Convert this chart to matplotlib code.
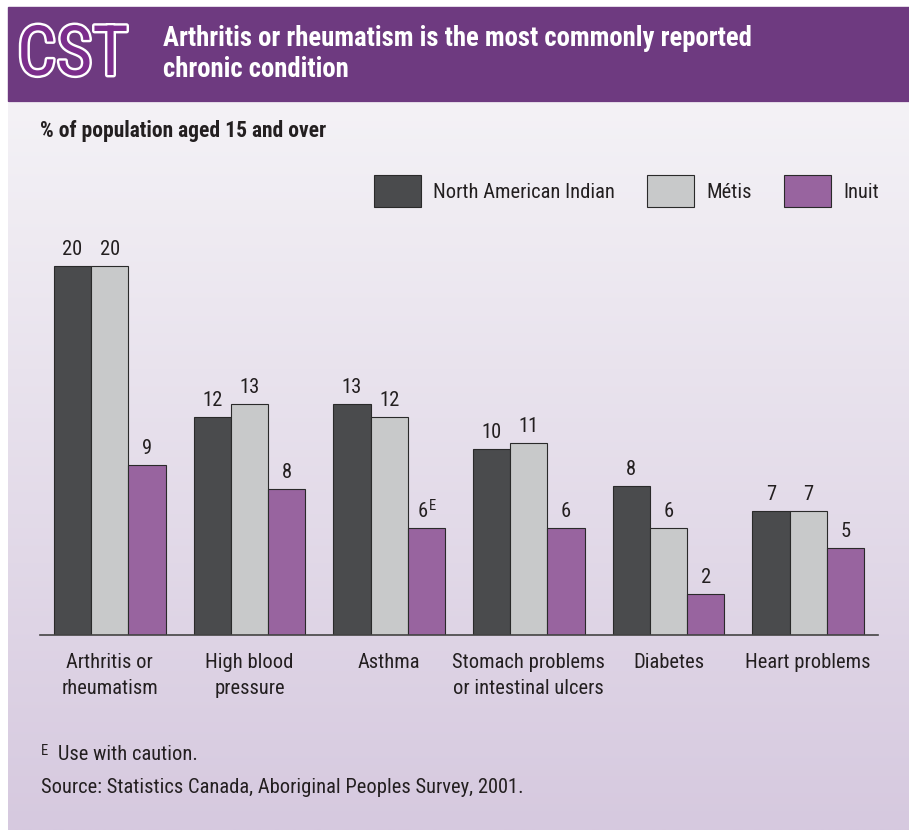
import numpy as np
import matplotlib
matplotlib.use("Agg")
import matplotlib.pyplot as plt
from matplotlib.patches import Rectangle
import matplotlib.patheffects as pe

# data
categories = ["Arthritis or\nrheumatism", "High blood\npressure", "Asthma",
              "Stomach problems\nor intestinal ulcers", "Diabetes", "Heart problems"]
series = ["North American Indian", "Métis", "Inuit"]
nai = [20.0, 11.8, 12.5, 10.1, 8.1, 6.7]
metis = [20.0, 12.5, 11.8, 10.4, 5.8, 6.7]
inuit = [9.2, 7.9, 5.8, 5.8, 2.2, 4.7]
nai_lbl = ["20", "12", "13", "10", "8", "7"]
metis_lbl = ["20", "13", "12", "11", "6", "7"]
inuit_lbl = ["9", "8", "6", "6", "2", "5"]
inuit_flag = [False, False, True, False, False, False]   # E = use with caution

colors = ["#4a4b4d", "#c8c9ca", "#98649f"]

plt.rcParams["font.family"] = ["Roboto Condensed", "DejaVu Sans"]
txt = "#231f20"
fs = 14.8

W, H = 909, 830
fig = plt.figure(figsize=(W / 100, H / 100), dpi=100)
fig.patch.set_facecolor("white")


def fx(x):
    return x / W


def fy(y):
    return 1 - y / H


# gradient background
bg = fig.add_axes([fx(8), 0, 1 - fx(8), fy(103)])
grad = np.linspace(0, 1, 256)[:, None]
top = np.array([0xf4, 0xf2, 0xf6]) / 255
bot = np.array([0xd6, 0xc9, 0xdf]) / 255
img = top[None, None, :] * (1 - grad[..., None]) + bot[None, None, :] * grad[..., None]
bg.imshow(img, aspect="auto", extent=[0, 1, 0, 1], origin="upper")
bg.axis("off")

# header band
fig.patches.append(Rectangle((fx(8), fy(101)), 1 - fx(8), fy(7) - fy(101),
                             transform=fig.transFigure, color="#6e3a80", zorder=0))
fig.text(fx(17), fy(56), "CST", fontsize=50, fontweight="normal", color="#7b2d8c",
         va="center", ha="left",
         path_effects=[pe.withStroke(linewidth=3.5, foreground="white")])
fig.text(fx(163), fy(54), "Arthritis or rheumatism is the most commonly reported\nchronic condition",
         fontsize=19.3, fontweight="bold", color="white", va="center", ha="left", linespacing=1.15)

fig.text(fx(40), fy(131), "% of population aged 15 and over", fontsize=15.5,
         fontweight="bold", color=txt, va="center", ha="left")

# chart
ax = fig.add_axes([fx(40), fy(635), fx(878) - fx(40), fy(235) - fy(635)])
ax.set_facecolor("none")
x = np.arange(len(categories))
bw = 0.267
vals = [nai, metis, inuit]
lbls = [nai_lbl, metis_lbl, inuit_lbl]
for i, (v, lb, c) in enumerate(zip(vals, lbls, colors)):
    xs = x + (i - 1) * bw
    ax.bar(xs, v, bw, color=c, edgecolor="#2a2a2a", linewidth=0.8, label=series[i])
    for j, (xx, hh, t) in enumerate(zip(xs, v, lb)):
        if i == 2 and inuit_flag[j]:
            ax.annotate(t, (xx, hh), xytext=(-3, 5), textcoords="offset points",
                        ha="center", va="bottom", fontsize=fs, color=txt)
            ax.annotate("E", (xx, hh), xytext=(4, 10.5), textcoords="offset points",
                        ha="center", va="bottom", fontsize=10.5, color=txt)
        else:
            ax.annotate(t, (xx, hh), xytext=(0, 5), textcoords="offset points",
                        ha="center", va="bottom", fontsize=fs, color=txt)

ax.set_xlim(-0.5, len(categories) - 0.5)
ax.set_ylim(0, 400 / 18.45)
for s in ["top", "right", "left"]:
    ax.spines[s].set_visible(False)
ax.spines["bottom"].set_color("#444444")
ax.spines["bottom"].set_linewidth(1.2)
ax.set_yticks([])
ax.set_xticks(x)
ax.set_xticklabels(categories, fontsize=fs, color=txt, linespacing=1.45)
ax.tick_params(axis="x", length=0, pad=13)

ax.legend(loc="upper right", bbox_to_anchor=(fx(898), fy(157)), bbox_transform=fig.transFigure,
          ncol=3, frameon=False, fontsize=fs, handlelength=2.3, handleheight=1.95,
          columnspacing=1.55, handletextpad=0.6, labelcolor=txt)

# notes
fig.text(fx(41), fy(751), "E", fontsize=10.5, color=txt, va="center", ha="left")
fig.text(fx(58), fy(754), "Use with caution.", fontsize=fs, color=txt, va="center", ha="left")
fig.text(fx(41), fy(787), "Source: Statistics Canada, Aboriginal Peoples Survey, 2001.",
         fontsize=fs, color=txt, va="center", ha="left")

fig.savefig("out.png", dpi=100)
